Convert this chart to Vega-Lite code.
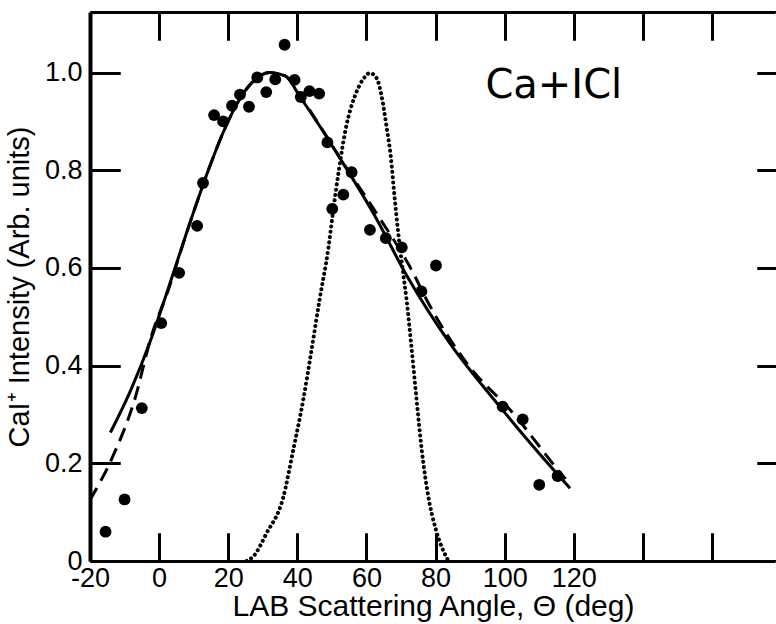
{
  "$schema": "https://vega.github.io/schema/vega-lite/v6.json",
  "width": 686,
  "height": 549,
  "autosize": {"type": "none"},
  "padding": {"left": 90, "top": 12, "right": 0, "bottom": 63},
  "background": "white",
  "config": {
    "view": {"stroke": null},
    "font": "Liberation Sans",
    "axis": {"grid": false, "labelFlush": false, "labelOverlap": false}
  },
  "datasets": {
    "pts": [
      {"angle": -15.5, "intensity": 0.06},
      {"angle": -10.0, "intensity": 0.126},
      {"angle": -5.0, "intensity": 0.313},
      {"angle": 0.6, "intensity": 0.487},
      {"angle": 5.8, "intensity": 0.59},
      {"angle": 11.0, "intensity": 0.686},
      {"angle": 12.7, "intensity": 0.774},
      {"angle": 15.9, "intensity": 0.913},
      {"angle": 18.5, "intensity": 0.9},
      {"angle": 21.1, "intensity": 0.932},
      {"angle": 23.4, "intensity": 0.955},
      {"angle": 26.0, "intensity": 0.93},
      {"angle": 28.4, "intensity": 0.99},
      {"angle": 31.0, "intensity": 0.96},
      {"angle": 33.6, "intensity": 0.986},
      {"angle": 36.3, "intensity": 1.057},
      {"angle": 39.2, "intensity": 0.985},
      {"angle": 41.0, "intensity": 0.95},
      {"angle": 43.5, "intensity": 0.962},
      {"angle": 46.3, "intensity": 0.957},
      {"angle": 48.7, "intensity": 0.857},
      {"angle": 50.1, "intensity": 0.721},
      {"angle": 53.3, "intensity": 0.75},
      {"angle": 55.7, "intensity": 0.796},
      {"angle": 61.0, "intensity": 0.678},
      {"angle": 65.6, "intensity": 0.661},
      {"angle": 70.2, "intensity": 0.642},
      {"angle": 75.9, "intensity": 0.552},
      {"angle": 80.1, "intensity": 0.605},
      {"angle": 99.4, "intensity": 0.316},
      {"angle": 105.2, "intensity": 0.29},
      {"angle": 110.0, "intensity": 0.156},
      {"angle": 115.3, "intensity": 0.174}
    ],
    "solid": [
      {"angle": -14.1, "intensity": 0.263},
      {"angle": -8.2, "intensity": 0.35},
      {"angle": -2.4, "intensity": 0.453},
      {"angle": 2.5, "intensity": 0.555},
      {"angle": 8.9, "intensity": 0.692},
      {"angle": 14.5, "intensity": 0.805},
      {"angle": 19.0, "intensity": 0.885},
      {"angle": 23.5, "intensity": 0.948},
      {"angle": 28.0, "intensity": 0.987},
      {"angle": 32.0, "intensity": 1.0},
      {"angle": 36.5, "intensity": 0.993},
      {"angle": 40.7, "intensity": 0.951},
      {"angle": 46.5, "intensity": 0.89},
      {"angle": 52.3, "intensity": 0.825},
      {"angle": 62.0, "intensity": 0.712},
      {"angle": 71.6, "intensity": 0.585},
      {"angle": 84.1, "intensity": 0.446},
      {"angle": 98.6, "intensity": 0.316},
      {"angle": 108.3, "intensity": 0.234},
      {"angle": 118.9, "intensity": 0.149}
    ],
    "dashed": [
      {"angle": -20.0, "intensity": 0.125},
      {"angle": -13.4, "intensity": 0.214},
      {"angle": -7.1, "intensity": 0.33},
      {"angle": -2.3, "intensity": 0.459},
      {"angle": 2.5, "intensity": 0.552},
      {"angle": 8.9, "intensity": 0.692},
      {"angle": 14.5, "intensity": 0.805},
      {"angle": 19.0, "intensity": 0.885},
      {"angle": 23.5, "intensity": 0.948},
      {"angle": 28.0, "intensity": 0.987},
      {"angle": 32.0, "intensity": 1.0},
      {"angle": 36.5, "intensity": 0.993},
      {"angle": 40.9, "intensity": 0.951},
      {"angle": 46.8, "intensity": 0.888},
      {"angle": 52.6, "intensity": 0.822},
      {"angle": 62.9, "intensity": 0.712},
      {"angle": 73.5, "intensity": 0.59},
      {"angle": 77.4, "intensity": 0.535},
      {"angle": 89.0, "intensity": 0.405},
      {"angle": 102.5, "intensity": 0.302},
      {"angle": 115.0, "intensity": 0.19},
      {"angle": 117.6, "intensity": 0.168}
    ],
    "dotted": [
      {"angle": 25.3, "intensity": 0.0},
      {"angle": 27.2, "intensity": 0.009},
      {"angle": 31.1, "intensity": 0.057},
      {"angle": 35.9, "intensity": 0.13},
      {"angle": 38.8, "intensity": 0.227},
      {"angle": 41.7, "intensity": 0.33},
      {"angle": 44.1, "intensity": 0.432},
      {"angle": 46.5, "intensity": 0.538},
      {"angle": 48.9, "intensity": 0.637},
      {"angle": 50.4, "intensity": 0.719},
      {"angle": 52.0, "intensity": 0.8},
      {"angle": 54.2, "intensity": 0.892},
      {"angle": 56.6, "intensity": 0.951},
      {"angle": 59.0, "intensity": 0.986},
      {"angle": 61.0, "intensity": 0.999},
      {"angle": 62.9, "intensity": 0.989},
      {"angle": 64.4, "intensity": 0.951},
      {"angle": 65.8, "intensity": 0.89},
      {"angle": 67.0, "intensity": 0.83},
      {"angle": 68.2, "intensity": 0.74},
      {"angle": 69.2, "intensity": 0.671},
      {"angle": 70.6, "intensity": 0.59},
      {"angle": 71.6, "intensity": 0.535},
      {"angle": 73.1, "intensity": 0.432},
      {"angle": 74.5, "intensity": 0.33},
      {"angle": 76.0, "intensity": 0.227},
      {"angle": 77.9, "intensity": 0.132},
      {"angle": 80.1, "intensity": 0.064},
      {"angle": 83.7, "intensity": 0.0}
    ],
    "label": [
      {"angle": 114.2, "intensity": 0.972, "text": "Ca+ICl"}
    ]
  },
  "layer": [
    {
      "data": {"name": "pts"},
      "mark": {"type": "point", "shape": "circle", "filled": true, "color": "black", "opacity": 1, "size": 140},
      "encoding": {
        "x": {
          "field": "angle", "type": "quantitative",
          "scale": {"domain": [-20, 178.5], "nice": false, "zero": false},
          "axis": {
            "orient": "bottom", "offset": -28, "domain": false, "zindex": 1,
            "values": [-20, 0, 20, 40, 60, 80, 100, 120, 140, 160],
            "labelExpr": "datum.value <= 120 ? '' + datum.value : ''",
            "ticks": true, "tickSize": 28, "tickWidth": 3, "tickColor": "#000000", "tickOpacity": 1,
            "grid": true, "gridColor": "#000000", "gridOpacity": 1,
            "gridWidth": {"condition": {"test": "datum.value == -20", "value": 4}, "value": 3},
            "gridDash": {"condition": {"test": "datum.value == -20", "value": [1, 0]}, "value": [28, 493, 28]},
            "labelFontSize": 27, "labelPadding": 4, "labelColor": "#000000", "labelFont": "Liberation Sans",
            "title": "LAB Scattering Angle, Θ (deg)", "titleColor": "#000000", "titleFont": "Liberation Sans",
            "titleFontWeight": "normal", "titleFontSize": 30, "titlePadding": 0
          }
        },
        "y": {
          "field": "intensity", "type": "quantitative",
          "scale": {"domain": [0, 1.124], "nice": false, "zero": false},
          "axis": {
            "orient": "left", "offset": -30, "domain": false, "zindex": 1,
            "values": [0, 0.2, 0.4, 0.6, 0.8, 1.0, 1.124],
            "labelExpr": "datum.value == 0 ? '0' : (datum.value > 1.05 ? '' : format(datum.value, '.1f'))",
            "ticks": true, "tickSize": 30, "tickWidth": 3, "tickColor": "#000000", "tickOpacity": 1,
            "grid": true, "gridColor": "#000000", "gridOpacity": 1, "gridWidth": 3,
            "gridDash": {"condition": {"test": "datum.value == 0 || datum.value > 1.05", "value": [1, 0]}, "value": [30, 637, 19]},
            "labelFontSize": 27, "labelPadding": 8, "labelColor": "#000000", "labelFont": "Liberation Sans",
            "title": "CaI⁺ Intensity (Arb. units)", "titleColor": "#000000", "titleFont": "Liberation Sans",
            "titleFontWeight": "normal", "titleFontSize": 29, "titlePadding": 10
          }
        }
      }
    },
    {
      "data": {"name": "solid"},
      "mark": {"type": "line", "color": "black", "strokeWidth": 3, "interpolate": "monotone"},
      "encoding": {
        "x": {
          "field": "angle", "type": "quantitative",
          "scale": {"domain": [-20, 178.5], "nice": false, "zero": false},
          "axis": {
            "orient": "top", "offset": -28, "domain": false, "zindex": 1,
            "values": [0, 20, 40, 60, 80, 100, 120, 140, 160],
            "labels": false, "ticks": true, "tickSize": 28, "tickWidth": 3, "tickColor": "#000000", "tickOpacity": 1, "title": null
          }
        },
        "y": {
          "field": "intensity", "type": "quantitative",
          "scale": {"domain": [0, 1.124], "nice": false, "zero": false},
          "axis": {
            "orient": "right", "offset": -19, "domain": false, "zindex": 1,
            "values": [0.2, 0.4, 0.6, 0.8, 1.0],
            "labels": false, "ticks": true, "tickSize": 19, "tickWidth": 3, "tickColor": "#000000", "tickOpacity": 1, "title": null
          }
        }
      }
    },
    {
      "data": {"name": "dashed"},
      "mark": {"type": "line", "color": "black", "strokeWidth": 3, "strokeDash": [14, 8], "interpolate": "monotone"},
      "encoding": {
        "x": {"field": "angle", "type": "quantitative", "scale": {"domain": [-20, 178.5], "nice": false, "zero": false}, "axis": null},
        "y": {"field": "intensity", "type": "quantitative", "scale": {"domain": [0, 1.124], "nice": false, "zero": false}, "axis": null}
      }
    },
    {
      "data": {"name": "dotted"},
      "mark": {"type": "line", "color": "black", "strokeWidth": 4, "strokeDash": [0.1, 5.2], "strokeCap": "round", "interpolate": "monotone"},
      "encoding": {
        "x": {"field": "angle", "type": "quantitative", "scale": {"domain": [-20, 178.5], "nice": false, "zero": false}, "axis": null},
        "y": {"field": "intensity", "type": "quantitative", "scale": {"domain": [0, 1.124], "nice": false, "zero": false}, "axis": null}
      }
    },
    {
      "data": {"name": "label"},
      "mark": {"type": "text", "color": "black", "fontSize": 40, "font": "DejaVu Sans", "align": "center", "baseline": "middle"},
      "encoding": {
        "x": {"field": "angle", "type": "quantitative", "scale": {"domain": [-20, 178.5], "nice": false, "zero": false}, "axis": null},
        "y": {"field": "intensity", "type": "quantitative", "scale": {"domain": [0, 1.124], "nice": false, "zero": false}, "axis": null},
        "text": {"field": "text"}
      }
    }
  ],
  "resolve": {"axis": {"x": "independent", "y": "independent"}}
}
